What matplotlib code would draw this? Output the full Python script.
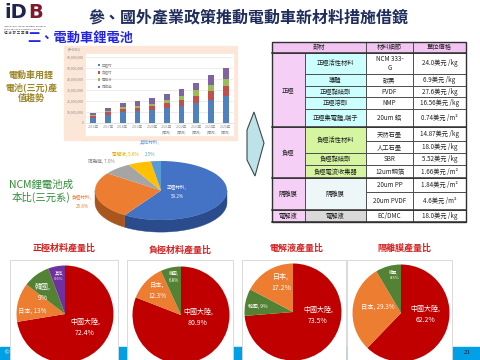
import numpy as np
import matplotlib.pyplot as plt
from matplotlib.patches import Rectangle, Polygon
from matplotlib.ticker import FuncFormatter

plt.rcParams['font.family'] = ['Noto Sans CJK TC', 'DejaVu Sans']

W, H = 480, 360

# ---- data ----
years = ['2016年', '2017年', '2018年', '2019年', '2020年', '2021年\n(預測)',
         '2022年\n(預測)', '2023年\n(預測)', '2024年\n(預測)', '2025年\n(預測)']
bar_names = ['正極材', '負極材', '電解液', '隔離膜']
cathode = [4.5, 7.2, 10.2, 10.8, 11.4, 13.8, 15.9, 18.3, 21.3, 24.6]      # x 1,000,000
anode = [1.5, 2.4, 2.5, 3.0, 3.9, 4.0, 4.8, 6.3, 7.8, 9.0]
electrolyte = [1.2, 1.5, 2.1, 2.1, 2.4, 3.0, 3.9, 5.1, 5.7, 6.6]
separator = [2.0, 2.4, 3.6, 3.9, 5.1, 6.0, 6.0, 6.9, 8.4, 9.6]

cost_labels = ['正極材料', '負極材料', '隔離膜', '電解液', '其他材料']
cost_values = [59.2, 25.6, 7.0, 5.6, 2.5]

table_header = ['部材', '材料細節', '單位價格']
table_groups = [('正極', 5), ('負極', 4), ('隔離膜', 2), ('電解液', 1)]
table_parts = [('正極活性材料', 1), ('導體', 1), ('正極黏結劑', 1), ('正極溶劑', 1),
               ('正極集電體,端子', 1), ('負極活性材料', 2), ('負極黏結劑', 1),
               ('負極電流收集器', 1), ('隔離膜', 2), ('電解液', 1)]
table_details = ['NCM 333-\nG', '碳黑', 'PVDF', 'NMP', '20um 鋁', '天然石墨', '人工石墨',
                 'SBR', '12um銅箔', '20um PP', '20um PVDF', 'EC/DMC']
table_prices = ['24.0美元 /kg', '6.9美元 /kg', '27.6美元 /kg', '16.56美元 /kg',
                '0.74美元 /m²', '14.87美元 /kg', '18.0美元 /kg', '5.52美元 /kg',
                '1.66美元 /m²', '1.84美元 /m²', '4.6美元 /m²', '18.0美元 /kg']

share_titles = ['正極材料產量比', '負極材料產量比', '電解液產量比', '隔離膜產量比']
share_labels = [['中國大陸', '日本', '韓國', '其他'],
                ['中國大陸', '日本', '韓國'],
                ['中國大陸', '韓國', '日本'],
                ['中國大陸', '日本', '韓國']]
share_values = [[72.4, 13, 9, 5.6],
                [80.9, 12.3, 6.8],
                [73.5, 9, 17.2],
                [62.2, 29.3, 8.5]]

# ---- layout / styles ----
country_colors = {'中國大陸': '#C00000', '日本': '#ED7D31', '韓國': '#548235', '其他': '#7030A0'}
bar_colors = ['#4F81BD', '#C0504D', '#9BBB59', '#8064A2']
cost_colors = ['#4472C4', '#ED7D31', '#A5A5A5', '#FFC000', '#5B9BD5']
cost_sides = ['#2A4C8C', '#A9561E', '#7F7F7F', '#BF9000', '#41719C']


def rect(x0, y0, x1, y1):
    return [x0 / W, 1 - y1 / H, (x1 - x0) / W, (y1 - y0) / H]


def ftext(x, y, s, **kw):
    kw.setdefault('ha', 'center')
    kw.setdefault('va', 'center')
    fig.text(x / W, 1 - y / H, s, **kw)


fig = plt.figure(figsize=(4.8, 3.6), dpi=100)
bg = fig.add_axes([0, 0, 1, 1])
bg.set_xlim(0, W)
bg.set_ylim(H, 0)
bg.axis('off')

# bottom strip + chart boxes
bg.add_patch(Rectangle((0, 347), W, 13, color='#00A0E6', zorder=1))
for x0, x1 in [(10, 118), (127, 233), (242, 346), (347, 452)]:
    bg.add_patch(Rectangle((x0, 260), x1 - x0, 102, facecolor='white',
                           edgecolor='#D4D4D4', lw=0.6, zorder=2))

# peach panel of bar chart
bg.add_patch(Rectangle((64, 46), 173, 94, color='#FCE6D8', zorder=1))
bg.add_patch(Rectangle((86, 54), 147, 81, color='white', zorder=2))

# arrow
bg.add_patch(Polygon([(247, 130), (254, 112), (264, 143), (255, 176), (247, 160)],
                     facecolor='#BDE3E8', edgecolor='#3C4A4A', lw=0.8, zorder=2))

# ---- table ----
col_x = [272, 304.5, 366, 413, 466]
row_y = [41.7, 52.7, 74, 86, 97, 109, 127.3, 141, 152.7, 165, 178.3, 191.7, 210, 222.3]
part_colors = ['#CCFFFF', '#D5F5A0', '#EEF7F7', '#D9D9D9']
fs_t = 4.5


def cell(c0, c1, r0, r1, text, color, lw=0.6):
    x0, x1, y0, y1 = col_x[c0], col_x[c1], row_y[r0], row_y[r1]
    bg.add_patch(Rectangle((x0, y0), x1 - x0, y1 - y0, facecolor=color,
                           edgecolor='#404040', lw=lw, zorder=3))
    bg.text((x0 + x1) / 2, (y0 + y1) / 2, text, ha='center', va='center',
            fontsize=fs_t, color='#222222', zorder=4, linespacing=1.1)


cell(0, 2, 0, 1, table_header[0], '#F2C4F2')
cell(2, 3, 0, 1, table_header[1], '#F2C4F2')
cell(3, 4, 0, 1, table_header[2], '#F2C4F2')
r = 1
for (g, n), pc in zip(table_groups, part_colors):
    cell(0, 1, r, r + n, g, '#F6CFF6')
    r += n
r = 1
gi, gcount = 0, 0
for name, n in table_parts:
    cell(1, 2, r, r + n, name, part_colors[gi])
    r += n
    gcount += n
    if gcount == table_groups[gi][1]:
        gi, gcount = gi + 1, 0
for i, (d, p) in enumerate(zip(table_details, table_prices)):
    cell(2, 3, i + 1, i + 2, d, 'white')
    cell(3, 4, i + 1, i + 2, p, 'white')
# thicker group borders
r = 1
for g, n in table_groups:
    bg.plot([col_x[0], col_x[-1]], [row_y[r], row_y[r]], color='#303030', lw=1.1, zorder=5)
    r += n
bg.plot([col_x[0], col_x[-1]], [row_y[-1], row_y[-1]], color='#303030', lw=1.1, zorder=5)
bg.add_patch(Rectangle((col_x[0], row_y[0]), col_x[-1] - col_x[0], row_y[-1] - row_y[0],
                       fill=False, edgecolor='#303030', lw=1.0, zorder=5))

# ---- stacked bar chart ----
ax = fig.add_axes(rect(86, 57, 233, 123))
ax.set_facecolor('none')
x = np.arange(len(years))
bottom = np.zeros(len(years))
for vals, color, name in zip([cathode, anode, electrolyte, separator], bar_colors, bar_names):
    v = np.array(vals) * 1e6
    ax.bar(x, v, 0.4, bottom=bottom, color=color, label=name, zorder=3)
    bottom += v
ax.set_xlim(-0.5, len(years) - 0.5)
ax.set_ylim(0, 60e6)
ax.set_yticks(np.arange(0, 61e6, 10e6))
ax.yaxis.set_major_formatter(FuncFormatter(lambda v, p: f'{v:,.0f}'))
ax.set_xticks(x)
ax.set_xticklabels(years, linespacing=1.4)
ax.tick_params(labelsize=2.5, colors='#8C8C8C', length=0, pad=1.5)
ax.grid(axis='y', color='#DDDDDD', lw=0.4)
ax.set_axisbelow(True)
for s in ['top', 'right', 'left']:
    ax.spines[s].set_visible(False)
ax.spines['bottom'].set_color('#D0D0D0')
ax.spines['bottom'].set_linewidth(0.4)
ax.legend(loc='upper left', bbox_to_anchor=(0.07, 0.93), fontsize=2.5, frameon=False,
          handlelength=0.7, handleheight=0.7, labelspacing=0.9, handletextpad=0.5,
          borderpad=0, labelcolor='#8C8C8C')
ftext(74, 49, '(千USD)', fontsize=2.5, color='#8C8C8C')

# ---- 3D cost pie ----
ax3 = fig.add_axes(rect(89, 150, 233, 240))
ax3.axis('off')
depth = 0.41
fr = np.array(cost_values) / sum(cost_values)
starts = 90 - 360 * np.concatenate([[0], np.cumsum(fr)[:-1]])
ends = starts - 360 * fr
for a0, a1, sc in zip(starts, ends, cost_sides):
    t = np.radians(np.linspace(a1, a0, 400))
    m = np.sin(t) <= 0
    if m.sum() > 1:
        tt = t[m]
        top = np.c_[np.cos(tt), np.sin(tt)]
        bot = top - [0, depth]
        ax3.add_patch(Polygon(np.vstack([top, bot[::-1]]), facecolor=sc, edgecolor=sc,
                              lw=0.3, zorder=0.5))
ax3.pie(cost_values, colors=cost_colors, startangle=90, counterclock=False, radius=1,
        wedgeprops=dict(linewidth=0))
ax3.set_aspect('auto')
ax3.set_xlim(-1.091, 1.091)
ax3.set_ylim(-1.678, 1.373)

cost_pos = [(177, 192), (82, 202), (101, 161), (125, 154), (150, 148.5)]
cost_txtc = ['white', '#ED7D31', '#8C8C8C', '#E6AC00', '#5B9BD5']
cost_sep = [',\n', ',\n', ', ', ', ', ',\n']
cost_ls = [2.0, 2.0, 1.2, 1.2, 2.6]
for lab, v, (px, py), c, sp, ls in zip(cost_labels, cost_values, cost_pos, cost_txtc,
                                       cost_sep, cost_ls):
    ftext(px, py, f'{lab}{sp}{v:.1f}%', fontsize=3.3, color=c, linespacing=ls)

# ---- bottom share pies ----
centers = [(65, 314), (181, 315), (293, 312), (401, 313)]
title_pos = [(64, 248), (180, 250), (297, 248), (404, 248)]
label_pos = [[(85, 327), (32, 311), (43, 292), (59, 276)],
             [(198, 317), (157, 290), (174, 277)],
             [(318, 315), (258, 306), (281, 282)],
             [(425, 314), (378, 307), (394, 275)]]
label_fs = [[5, 4.5, 5, 3], [5, 4.5, 3.2], [5, 3.5, 5], [5, 4.5, 3]]
label_sep = [[',\n', ', ', ',\n', ',\n'], [',\n', ',\n', ',\n'],
             [',\n', ', ', ',\n'], [',\n', ', ', ',\n']]
rad, half = 48.5, 56
for i, (cx, cy) in enumerate(centers):
    axp = fig.add_axes(rect(cx - half, cy - half, cx + half, cy + half))
    axp.pie(share_values[i], colors=[country_colors[l] for l in share_labels[i]],
            startangle=90, counterclock=False, radius=1, wedgeprops=dict(linewidth=0))
    axp.set_xlim(-half / rad, half / rad)
    axp.set_ylim(-half / rad, half / rad)
    axp.set_aspect('equal')
    axp.axis('off')
    ftext(*title_pos[i], share_titles[i], fontsize=6.5, color='#D42020', weight='bold')
    for lab, v, (px, py), f, sp in zip(share_labels[i], share_values[i], label_pos[i],
                                       label_fs[i], label_sep[i]):
        ftext(px, py, f'{lab}{sp}{v:g}%', fontsize=f, color='white', linespacing=1.6)

# ---- headings / logo ----
ftext(249, 17, '參、國外產業政策推動電動車新材料措施借鏡', fontsize=11.5,
      weight='bold', color='#1F2D5C')
ftext(27, 38, '二、電動車鋰電池', fontsize=9.5, weight='bold', color='#2424E0', ha='left')
ftext(31, 87, '電動車用鋰\n電池(三元)產\n值趨勢', fontsize=6.5, weight='bold',
      color='#9C8628', linespacing=1.25)
ftext(41, 191, 'NCM鋰電池成\n本比(三元系)', fontsize=7.5, color='#2E8B35', linespacing=1.25)

ftext(4, 13, 'iD', fontsize=14, weight='bold', color='#1F2350', ha='left', family='DejaVu Sans')
ftext(28, 13, 'B', fontsize=14, weight='bold', color='#7E1A2C', ha='left', family='DejaVu Sans')
ftext(4, 26, 'INDUSTRIAL DEVELOPMENT BUREAU,', fontsize=1.6, color='#333333', ha='left',
      family='DejaVu Sans')
ftext(4, 29, 'MINISTRY OF ECONOMIC AFFAIRS', fontsize=1.6, color='#333333', ha='left',
      family='DejaVu Sans')
ftext(4, 33, '經 濟 部 工 業 局', fontsize=2.5, color='#333333', ha='left')

ftext(6, 353, '©', fontsize=4.5, color='white', family='DejaVu Sans')
ftext(467, 353, '21', fontsize=5, color='#111111', family='Liberation Serif')

fig.savefig('out.png', dpi=100)
